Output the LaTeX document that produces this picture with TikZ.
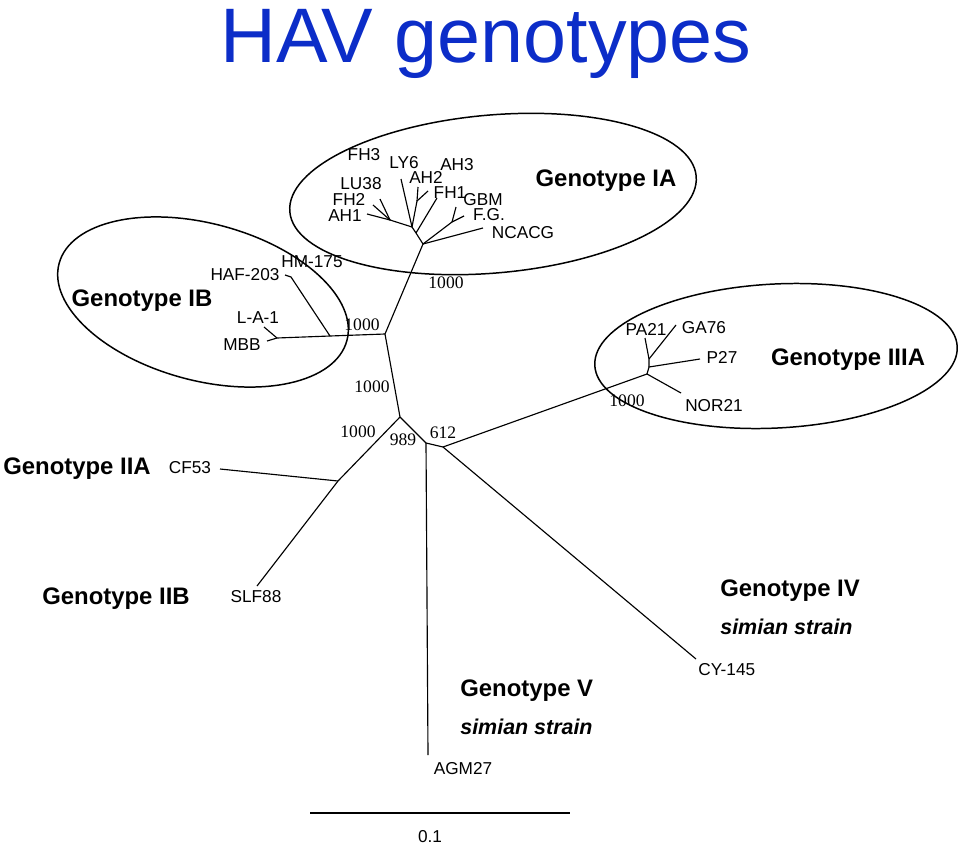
\documentclass[tikz,border=0pt]{standalone}
\usepackage{fontspec}
\setmainfont{Liberation Sans}
\newfontfamily\bootfont{Liberation Serif}
\usepackage{xcolor}
\usetikzlibrary{positioning,shapes.geometric}
\definecolor{titleblue}{RGB}{12,45,200}

\begin{document}
\begin{tikzpicture}[
    x=0.02cm, y=-0.02cm,
    branch/.style={line width=0.65pt},
    clade/.style={draw, ellipse, line width=0.85pt, inner sep=0pt},
    leaf/.style={font=\fontsize{9.8}{10}\selectfont, inner sep=0pt, text depth=0pt},
    boot/.style={font=\bootfont\fontsize{10}{10}\selectfont, inner sep=0pt, text depth=0pt},
    geno/.style={font=\bfseries\fontsize{13.6}{15}\selectfont, inner sep=0pt, text depth=0pt},
    simian/.style={font=\bfseries\itshape\fontsize{12.2}{14}\selectfont, inner sep=0pt, text depth=0pt}
  ]
    \useasboundingbox (0,0) rectangle (959,845);

    \node[anchor=base, text=titleblue, font=\fontsize{44}{48}\selectfont, inner sep=0pt] (title) at (486,62) {HAV genotypes};

    % clade ellipses
    \node[clade, minimum width=8.16cm, minimum height=3.16cm, rotate=5] (ellIA) at (493,194) {};
    \node[clade, minimum width=5.96cm, minimum height=3.14cm, rotate=-15] (ellIB) at (203,302) {};
    \node[clade, minimum width=7.26cm, minimum height=2.88cm, rotate=3] (ellIIIA) at (776,356) {};

    % internal nodes
    \coordinate (jA) at (385,334);
    \coordinate (jIA) at (423,244);
    \coordinate (jIB) at (330,336);
    \coordinate (jB) at (400,417);
    \coordinate (jD) at (338,481);
    \coordinate (jC) at (426,443);
    \coordinate (jE) at (443,447);
    \coordinate (jIIIA) at (647,374);

    \draw[branch] (jIB) -- (jA);
    \draw[branch] (jA) -- (jIA);
    \draw[branch] (jA) -- (jB);
    \draw[branch] (jB) -- (jD);
    \draw[branch] (jB) -- (jC);
    \draw[branch] (jC) -- (jE);
    \draw[branch] (jE) -- (jIIIA);

    % genotype IA
    \coordinate (p0) at (416,233);
    \coordinate (p1) at (412,227);
    \coordinate (q1) at (390,220);
    \coordinate (a2) at (417,201);
    \coordinate (g1) at (452,222);
    \coordinate (tNCACG) at (483,228);
    \coordinate (tGBM) at (456,207);
    \coordinate (tFG) at (464,216);
    \coordinate (tFH1) at (437,198);
    \coordinate (tAH2) at (418,187);
    \coordinate (tAH3) at (428,191);
    \coordinate (tLY6) at (401,179);
    \coordinate (tLU38) at (380,199);
    \coordinate (tFH2) at (373,205);
    \coordinate (tAH1) at (367,214);

    \draw[branch] (jIA) -- (tNCACG);
    \draw[branch] (jIA) -- (g1);
    \draw[branch] (g1) -- (tGBM);
    \draw[branch] (g1) -- (tFG);
    \draw[branch] (jIA) -- (p0) -- (p1);
    \draw[branch] (p0) -- (tFH1);
    \draw[branch] (p1) -- (a2);
    \draw[branch] (a2) -- (tAH2);
    \draw[branch] (a2) -- (tAH3);
    \draw[branch] (p1) -- (tLY6);
    \draw[branch] (p1) -- (q1);
    \draw[branch] (q1) -- (tLU38);
    \draw[branch] (q1) -- (tFH2);
    \draw[branch] (q1) -- (tAH1);

    \node[leaf] (FH3) at (364,154) {FH3};
    \node[leaf] (LY6) at (404,162) {LY6};
    \node[leaf] (AH3) at (457,164) {AH3};
    \node[leaf] (LU38) at (361,183) {LU38};
    \node[leaf] (AH2) at (426,177) {AH2};
    \node[leaf] (FH1) at (450,193) {FH1};
    \node[leaf] (GBM) at (483,199) {GBM};
    \node[leaf] (FH2) at (349,199) {FH2};
    \node[leaf] (FG) at (489,214) {F.G.};
    \node[leaf] (AH1) at (345,216) {AH1};
    \node[leaf] (NCACG) at (523,232) {NCACG};
    \node[geno] (gIA) at (606,178) {Genotype IA};

    % genotype IB
    \coordinate (h1) at (291,277);
    \coordinate (m1) at (277,338);
    \coordinate (tHAF) at (285,275);
    \coordinate (tMBB) at (267,341);
    \coordinate (tLA) at (264,327);

    \draw[branch] (jIB) -- (h1) -- (tHAF);
    \draw[branch] (jIB) -- (m1) -- (tMBB);
    \draw[branch] (m1) -- (tLA);

    \node[leaf] (HM) at (312,262) {HM-175};
    \node[leaf] (HAF) at (245,274) {HAF-203};
    \node[leaf] (LA1) at (258,318) {L-A-1};
    \node[leaf] (MBB) at (242,345) {MBB};
    \node[geno] (gIB) at (142,298) {Genotype IB};

    % genotype IIIA
    \coordinate (s1) at (649,367);
    \coordinate (s2) at (649,359);
    \coordinate (tNOR) at (681,393);
    \coordinate (tP27) at (700,359);
    \coordinate (tPA) at (645,338);
    \coordinate (tGA) at (676,325);

    \draw[branch] (jIIIA) -- (tNOR);
    \draw[branch] (jIIIA) -- (s1) -- (tP27);
    \draw[branch] (s1) -- (s2) -- (tPA);
    \draw[branch] (s2) -- (tGA);

    \node[leaf] (PA21) at (646,329) {PA21};
    \node[leaf] (GA76) at (704,327) {GA76};
    \node[leaf] (P27) at (722,357) {P27};
    \node[leaf] (NOR21) at (714,405) {NOR21};
    \node[geno] (gIIIA) at (848,357) {Genotype IIIA};

    % genotypes II, IV, V
    \coordinate (tCF) at (220,469);
    \coordinate (tSLF) at (257,586);
    \coordinate (tAGM) at (428,755);
    \coordinate (tCY) at (696,659);

    \draw[branch] (jD) -- (tCF);
    \draw[branch] (jD) -- (tSLF);
    \draw[branch] (jC) -- (tAGM);
    \draw[branch] (jE) -- (tCY);

    \node[leaf] (CF53) at (190,467) {CF53};
    \node[geno] (gIIA) at (77,466) {Genotype IIA};
    \node[leaf] (SLF88) at (256,596) {SLF88};
    \node[geno] (gIIB) at (116,596) {Genotype IIB};
    \node[leaf] (AGM27) at (463,768) {AGM27};
    \node[leaf, anchor=west] (CY145) at (698,669) {CY-145};
    \node[geno, anchor=west] (gIV) at (720,588) {Genotype IV};
    \node[simian, anchor=west] (sIV) at (720,627) {simian strain};
    \node[geno, anchor=west] (gV) at (460,688) {Genotype V};
    \node[simian, anchor=west] (sV) at (460,727) {simian strain};

    % bootstrap values
    \node[boot] (b1) at (446,283) {1000};
    \node[boot] (b2) at (362,325) {1000};
    \node[boot] (b3) at (372,387) {1000};
    \node[boot] (b4) at (358,432) {1000};
    \node[boot] (b5) at (403,440) {989};
    \node[boot] (b6) at (443,433) {612};
    \node[boot] (b7) at (627,401) {1000};

    % scale bar
    \coordinate (sb1) at (310,813);
    \coordinate (sb2) at (570,813);
    \draw[branch] (sb1) -- (sb2);
    \node[leaf] (scale) at (430,836) {0.1};
  \end{tikzpicture}
\end{document}
